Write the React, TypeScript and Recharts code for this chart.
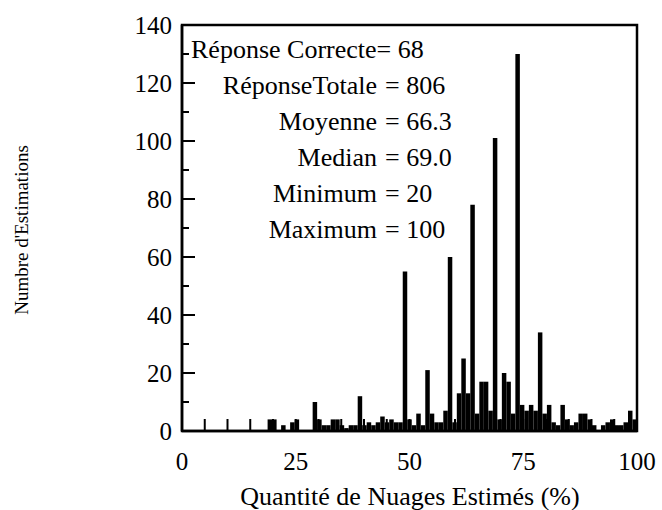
import React from "react";
import { Bar, BarChart, ReferenceArea, XAxis, YAxis } from "recharts";

// estimated cloud cover (%) and how many answers gave it
const estimates = [
  20, 21, 22, 23, 24, 25, 26, 27, 28, 29,
  30, 31, 32, 33, 34, 35, 36, 37, 38, 39,
  40, 41, 42, 43, 44, 45, 46, 47, 48, 49,
  50, 51, 52, 53, 54, 55, 56, 57, 58, 59,
  60, 61, 62, 63, 64, 65, 66, 67, 68, 69,
  70, 71, 72, 73, 74, 75, 76, 77, 78, 79,
  80, 81, 82, 83, 84, 85, 86, 87, 88, 89,
  90, 91, 92, 93, 94, 95, 96, 97, 98, 99,
  100, 101,
];
const counts = [
  4, 4, 0, 2, 0, 3, 4, 0, 0, 0,
  10, 4, 2, 2, 4, 4, 2, 1, 2, 2,
  12, 2, 3, 2, 3, 5, 3, 4, 3, 3,
  55, 4, 2, 6, 2, 21, 6, 3, 3, 7,
  60, 3, 13, 25, 13, 78, 6, 17, 17, 7,
  101, 4, 20, 17, 6, 130, 9, 7, 9, 7,
  34, 6, 9, 3, 2, 9, 4, 2, 3, 6,
  6, 4, 2, 0, 2, 3, 4, 2, 2, 3,
  7, 4,
];

const xTicks = [0, 5, 10, 15, 20, 25, 30, 35, 40, 45, 50, 55, 60, 65, 70, 75, 80, 85, 90, 95, 100];
const xLabelTicks = [0, 25, 50, 75, 100];
const yTicks = [0, 10, 20, 30, 40, 50, 60, 70, 80, 90, 100, 110, 120, 130, 140];

const statNames = ["RéponseTotale", "Moyenne", "Median", "Minimum", "Maximum"];
const statValues = ["806", "66.3", "69.0", "20", "100"];

const data = estimates.map((estimate, i) => ({ estimate, count: counts[i] }));

const FONT = '"Liberation Serif", "Times New Roman", serif';
const axisLine = { stroke: "#000", strokeWidth: 2.5 };

const XTick = (props: any) => {
  const { x, y, payload } = props;
  const v = payload.value;
  return (
    <g>
      {v > 0 && v < 100 && <line x1={x} x2={x} y1={y} y2={y - 12} stroke="#000" strokeWidth={2} />}
      {xLabelTicks.includes(v) && (
        <text x={x} y={y + 39} textAnchor="middle" fontSize={25} fontFamily={FONT} fill="#000">
          {v}
        </text>
      )}
    </g>
  );
};

const YTick = (props: any) => {
  const { x, y, payload } = props;
  const v = payload.value;
  const major = v % 20 === 0;
  return (
    <g>
      {v > 0 && v < 140 && (
        <line x1={x} x2={x + (major ? 13 : 7)} y1={y} y2={y} stroke="#000" strokeWidth={2} />
      )}
      {major && (
        <text x={x - 10} y={y + 9} textAnchor="end" fontSize={25} fontFamily={FONT} fill="#000">
          {v}
        </text>
      )}
    </g>
  );
};

export default function App() {
  return (
    <div style={{ position: "absolute", left: 0, top: 0, width: 662, height: 510, background: "#fff" }}>
      <BarChart width={662} height={510} data={data} margin={{ top: 25, right: 25, bottom: 39, left: 0 }}>
        <XAxis
          xAxisId="ticks"
          type="number"
          dataKey="estimate"
          domain={[0, 100]}
          ticks={xTicks}
          interval={0}
          tick={<XTick />}
          tickLine={false}
          tickSize={0}
          tickMargin={0}
          height={40}
          axisLine={axisLine}
          allowDataOverflow
        />
        <XAxis
          xAxisId="bars"
          type="number"
          dataKey="estimate"
          domain={[0.5, 101.5]}
          height={0}
          hide
          allowDataOverflow
        />
        <YAxis
          yAxisId="left"
          type="number"
          domain={[0, 140]}
          ticks={yTicks}
          interval={0}
          tick={<YTick />}
          tickLine={false}
          tickSize={0}
          tickMargin={0}
          width={182}
          axisLine={axisLine}
          allowDataOverflow
        />
        <ReferenceArea
          xAxisId="bars"
          yAxisId="left"
          x1={0.5}
          x2={101.5}
          y1={0}
          y2={140}
          fill="none"
          fillOpacity={0}
          stroke="#000"
          strokeWidth={2.5}
          ifOverflow="visible"
        />
        <Bar xAxisId="bars" yAxisId="left" dataKey="count" fill="#000" barSize={4.5} isAnimationActive={false} />
      </BarChart>
      <svg
        width={662}
        height={510}
        style={{ position: "absolute", left: 0, top: 0, pointerEvents: "none" }}
        fontFamily={FONT}
        fill="#000"
      >
        <text x={191} y={58} fontSize={26}>
          Réponse Correcte= 68
        </text>
        {statNames.map((name, i) => (
          <g key={name}>
            <text x={377} y={94 + i * 36} fontSize={26} textAnchor="end">
              {name}
            </text>
            <text x={385} y={94 + i * 36} fontSize={26}>
              = {statValues[i]}
            </text>
          </g>
        ))}
        <text x={410} y={505} fontSize={26} textAnchor="middle">
          Quantité de Nuages Estimés (%)
        </text>
        <text transform="translate(28,230) rotate(-90)" fontSize={19} textAnchor="middle">
          Numbre d'Estimations
        </text>
      </svg>
    </div>
  );
}
